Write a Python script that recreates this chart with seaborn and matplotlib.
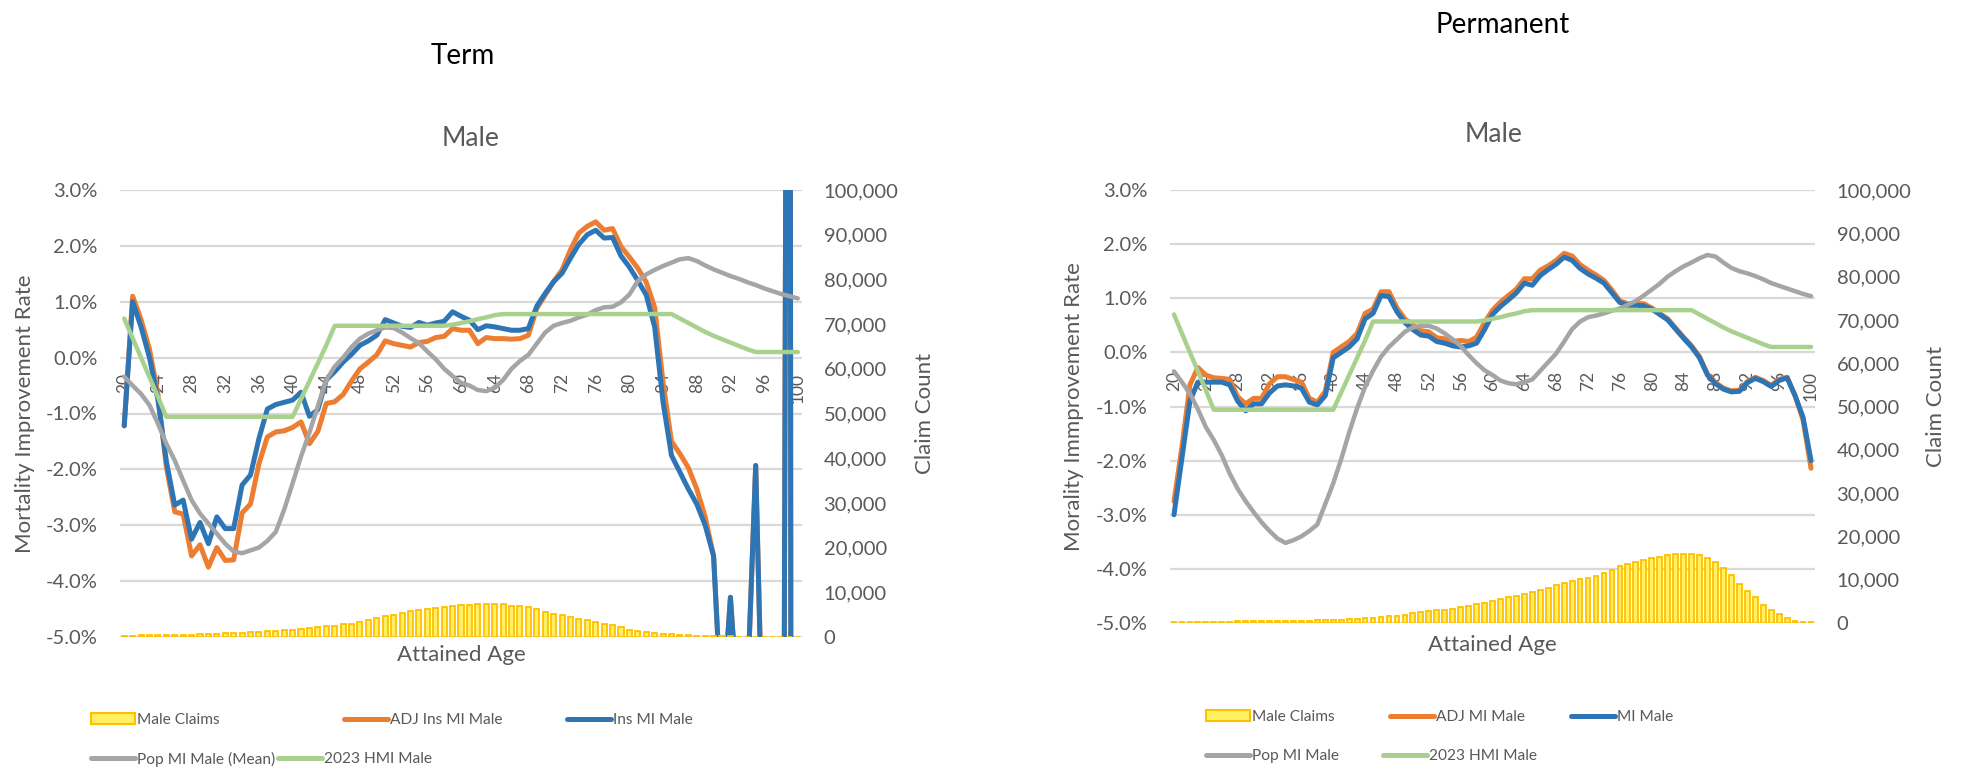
import matplotlib
matplotlib.use("Agg")
import matplotlib.pyplot as plt
import seaborn as sns
from matplotlib.ticker import FuncFormatter, FixedLocator
from matplotlib.lines import Line2D
from matplotlib.patches import Patch

# ---------------------------------------------------------------- data
ages = list(range(20, 101))
age_ticks = list(range(20, 101, 4))

# Term block
term_claims = [
    300, 320, 340, 360, 380, 400, 430, 470, 520, 580,
    650, 720, 800, 880, 960, 1050, 1150, 1250, 1350, 1480,
    1650, 1850, 2000, 2150, 2350, 2550, 2800, 3000, 3300, 3700,
    4200, 4600, 5000, 5400, 5800, 6050, 6250, 6450, 6700, 6900,
    7050, 7200, 7400, 7450, 7480, 7450, 7000, 6850, 6700, 6300,
    5700, 5200, 4850, 4500, 4100, 3750, 3350, 2900, 2600, 2200,
    1600, 1300, 1100, 900, 750, 600, 480, 390, 320, 260,
    210, 170, 140, 110, 90, 70, 55, 45, 35, 25, 20,
]
term_adj_ins_mi = [
    -1.22, 1.10, 0.68, 0.15, -0.65, -1.95, -2.76, -2.80, -3.55, -3.35,
    -3.75, -3.40, -3.63, -3.62, -2.78, -2.62, -1.90, -1.42, -1.33, -1.31,
    -1.25, -1.15, -1.54, -1.32, -0.82, -0.79, -0.66, -0.42, -0.20, -0.08,
    0.05, 0.30, 0.25, 0.22, 0.19, 0.27, 0.29, 0.36, 0.38, 0.52,
    0.49, 0.49, 0.25, 0.36, 0.34, 0.34, 0.33, 0.34, 0.40, 0.88,
    1.12, 1.36, 1.57, 1.93, 2.23, 2.35, 2.43, 2.28, 2.31, 1.99,
    1.80, 1.60, 1.35, 0.90, -0.45, -1.50, -1.72, -1.97, -2.35, -2.85,
    -3.55, -6.50, -4.29, -6.50, -6.00, -1.93, -8.00, -8.00, -25.0, 25.0, -150.0,
]
term_ins_mi = [
    -1.22, 1.00, 0.55, 0.00, -0.75, -1.85, -2.64, -2.55, -3.25, -2.95,
    -3.33, -2.85, -3.06, -3.06, -2.28, -2.10, -1.45, -0.92, -0.84, -0.80,
    -0.76, -0.62, -1.05, -0.93, -0.40, -0.25, -0.08, 0.06, 0.22, 0.30,
    0.40, 0.68, 0.62, 0.56, 0.54, 0.63, 0.58, 0.62, 0.65, 0.82,
    0.74, 0.67, 0.50, 0.57, 0.55, 0.52, 0.49, 0.49, 0.52, 0.92,
    1.15, 1.36, 1.51, 1.78, 2.03, 2.20, 2.28, 2.14, 2.15, 1.82,
    1.62, 1.38, 1.12, 0.55, -0.80, -1.75, -2.05, -2.35, -2.62, -3.00,
    -3.55, -6.50, -4.29, -6.50, -6.00, -1.93, -8.00, -8.00, -25.0, 25.0, -150.0,
]
term_pop_mi_mean = [
    -0.34, -0.50, -0.65, -0.85, -1.18, -1.54, -1.84, -2.20, -2.55, -2.79,
    -2.97, -3.15, -3.33, -3.47, -3.50, -3.45, -3.40, -3.28, -3.12, -2.72,
    -2.25, -1.77, -1.34, -0.87, -0.40, -0.16, 0.00, 0.19, 0.34, 0.43,
    0.49, 0.54, 0.53, 0.45, 0.35, 0.26, 0.11, -0.03, -0.20, -0.33,
    -0.45, -0.50, -0.58, -0.60, -0.54, -0.40, -0.20, -0.06, 0.05, 0.25,
    0.45, 0.57, 0.62, 0.66, 0.72, 0.77, 0.85, 0.90, 0.91, 0.99,
    1.13, 1.37, 1.49, 1.57, 1.64, 1.70, 1.76, 1.78, 1.73, 1.65,
    1.58, 1.52, 1.46, 1.41, 1.35, 1.30, 1.24, 1.19, 1.14, 1.10, 1.06,
]

# 2023 HMI table (same scale for both blocks)
hmi_2023 = (
    [0.70, 0.35, 0.00, -0.35, -0.70]
    + [-1.06] * 16
    + [-0.74, -0.42, -0.10, 0.22]
    + [0.57] * 14
    + [0.59, 0.62, 0.65, 0.69, 0.72, 0.76]
    + [0.78] * 21
    + [0.70, 0.62, 0.54, 0.46, 0.39, 0.33, 0.27, 0.21, 0.15]
    + [0.10] * 6
)

# Permanent block
perm_claims = [
    200, 200, 220, 230, 240, 250, 260, 280, 380, 390,
    400, 400, 410, 420, 430, 450, 470, 520, 580, 650,
    720, 800, 900, 1000, 1100, 1230, 1380, 1540, 1720, 1950,
    2200, 2500, 2700, 2900, 3100, 3300, 3600, 3900, 4300, 4700,
    5100, 5500, 5900, 6300, 6700, 7200, 7600, 8100, 8700, 9300,
    9800, 10100, 10300, 10900, 11600, 12300, 13100, 13600, 14100, 14500,
    14900, 15300, 15600, 15900, 16000, 16000, 15700, 14900, 14100, 12600,
    11000, 9100, 7500, 6000, 4200, 2900, 2100, 1100, 500, 250, 200,
]
perm_adj_mi = [
    -2.75, -1.75, -0.60, -0.28, -0.42, -0.47, -0.48, -0.50, -0.82, -0.95,
    -0.85, -0.85, -0.58, -0.45, -0.45, -0.50, -0.55, -0.85, -0.92, -0.72,
    0.00, 0.10, 0.20, 0.35, 0.72, 0.80, 1.12, 1.12, 0.82, 0.62,
    0.50, 0.40, 0.38, 0.27, 0.25, 0.20, 0.22, 0.20, 0.28, 0.55,
    0.78, 0.93, 1.05, 1.17, 1.36, 1.36, 1.52, 1.60, 1.70, 1.83,
    1.78, 1.62, 1.52, 1.43, 1.33, 1.15, 0.95, 0.90, 0.90, 0.90,
    0.82, 0.72, 0.62, 0.45, 0.28, 0.12, -0.08, -0.40, -0.56, -0.66,
    -0.71, -0.70, -0.54, -0.46, -0.52, -0.61, -0.50, -0.46, -0.80, -1.25, -2.14,
]
perm_mi = [
    -3.00, -1.95, -0.90, -0.55, -0.55, -0.55, -0.55, -0.60, -0.90, -1.08,
    -0.95, -0.95, -0.75, -0.62, -0.60, -0.62, -0.66, -0.92, -0.97, -0.80,
    -0.10, 0.00, 0.10, 0.25, 0.62, 0.72, 1.05, 1.03, 0.75, 0.55,
    0.42, 0.32, 0.30, 0.20, 0.17, 0.12, 0.10, 0.12, 0.17, 0.42,
    0.70, 0.85, 0.97, 1.10, 1.28, 1.24, 1.42, 1.53, 1.63, 1.76,
    1.70, 1.55, 1.45, 1.37, 1.28, 1.10, 0.92, 0.87, 0.87, 0.86,
    0.80, 0.70, 0.60, 0.43, 0.26, 0.10, -0.10, -0.42, -0.58, -0.68,
    -0.73, -0.72, -0.56, -0.48, -0.54, -0.63, -0.52, -0.47, -0.80, -1.20, -2.00,
]
perm_pop_mi = [
    -0.35, -0.55, -0.76, -1.05, -1.38, -1.62, -1.90, -2.24, -2.52, -2.75,
    -2.95, -3.14, -3.30, -3.44, -3.52, -3.47, -3.40, -3.30, -3.18, -2.80,
    -2.42, -1.97, -1.48, -1.03, -0.64, -0.34, -0.08, 0.10, 0.24, 0.38,
    0.46, 0.49, 0.49, 0.44, 0.35, 0.24, 0.12, -0.05, -0.20, -0.33,
    -0.42, -0.52, -0.57, -0.59, -0.55, -0.50, -0.34, -0.18, -0.02, 0.20,
    0.43, 0.57, 0.65, 0.68, 0.72, 0.77, 0.81, 0.88, 0.95, 1.05,
    1.16, 1.27, 1.40, 1.50, 1.59, 1.66, 1.74, 1.80, 1.77, 1.66,
    1.56, 1.50, 1.46, 1.41, 1.35, 1.28, 1.23, 1.18, 1.13, 1.08, 1.04,
]

# ---------------------------------------------------------------- style
ORANGE = "#ED7D31"
BLUE = "#2E75B6"
GREY = "#A5A5A5"
GREEN = "#A9D18E"
BAR_FACE = "#FFF064"
BAR_EDGE = "#FFC000"
TEXT = "#595959"
GRID = "#D9D9D9"

sns.set_theme(style="white")
plt.rcParams["font.family"] = ["Lato", "DejaVu Sans"]

W, H = 1963, 773
fig = plt.figure(figsize=(W / 100, H / 100), dpi=100)
fig.patch.set_facecolor("white")


def px_axes(left, top, right, bottom):
    return fig.add_axes([left / W, 1 - bottom / H, (right - left) / W, (bottom - top) / H])


def draw_panel(box, claims, series, ylabel, ylab_x, clab_x, xlab_y, xpad):
    ax = px_axes(*box)
    ax2 = ax.twinx()

    for vals, color, lw in series:
        sns.lineplot(x=ages, y=vals, ax=ax, color=color, linewidth=lw,
                     solid_capstyle="round", solid_joinstyle="round")

    sns.barplot(x=ages, y=claims, ax=ax2, native_scale=True, color=BAR_FACE,
                edgecolor=BAR_EDGE, linewidth=1.3, width=0.6, saturation=1,
                errorbar=None)

    ax.set_xlim(19.5, 100.5)
    ax.set_ylim(-5, 3)
    ax2.set_ylim(0, 100000)

    ax.xaxis.set_major_locator(FixedLocator(age_ticks))
    ax.xaxis.set_major_formatter(FuncFormatter(lambda v, _: f"{int(round(v))}"))
    ax.yaxis.set_major_locator(FixedLocator(list(range(-5, 4))))
    ax.yaxis.set_major_formatter(FuncFormatter(lambda v, _: f"{v:.1f}%"))
    ax2.yaxis.set_major_locator(FixedLocator(list(range(0, 100001, 10000))))
    ax2.yaxis.set_major_formatter(FuncFormatter(lambda v, _: f"{int(v):,}"))

    for a in (ax, ax2):
        for s in a.spines.values():
            s.set_visible(False)
    ax.spines["bottom"].set_position(("data", 0))

    ax.yaxis.grid(True, color=GRID, linewidth=1.6)
    ax.xaxis.grid(False)
    ax.set_axisbelow(True)

    ax.tick_params(axis="x", length=0, pad=xpad, labelsize=12.5, labelcolor=TEXT,
                   labelrotation=90)
    ax.tick_params(axis="y", length=0, pad=16, labelsize=14.5, labelcolor=TEXT)
    ax2.tick_params(axis="y", length=0, pad=15.5, labelsize=14.5, labelcolor=TEXT)

    ax.set_xlabel("Attained Age", fontsize=16, color=TEXT)
    ax.xaxis.set_label_coords(0.5, xlab_y)
    ax.set_ylabel(ylabel, fontsize=16, color=TEXT)
    ax.yaxis.label.set_va("center")
    ax.yaxis.set_label_coords(ylab_x, 0.5)
    ax2.set_ylabel("Claim Count", fontsize=16, color=TEXT)
    ax2.yaxis.label.set_va("center")
    ax2.yaxis.set_label_coords(clab_x, 0.5)
    return ax, ax2


draw_panel((120, 190, 802, 637), term_claims,
           [(term_adj_ins_mi, ORANGE, 3.6), (term_ins_mi, BLUE, 3.6),
            (term_pop_mi_mean, GREY, 3.2), (hmi_2023, GREEN, 3.2)],
           "Mortality Improvement Rate", -0.139, 1.180, -0.018, 11)

draw_panel((1170, 190, 1815, 623), perm_claims,
           [(perm_adj_mi, ORANGE, 3.6), (perm_mi, BLUE, 3.6),
            (perm_pop_mi, GREY, 3.2), (hmi_2023, GREEN, 3.2)],
           "Morality Immprovement Rate", -0.149, 1.188, -0.027, 13.5)

# titles
fig.text(463 / W, 1 - 56 / H, "Term", ha="center", va="center", fontsize=20, color="black")
fig.text(1503 / W, 1 - 25 / H, "Permanent", ha="center", va="center", fontsize=20, color="black")
fig.text(471 / W, 1 - 139 / H, "Male", ha="center", va="center", fontsize=19, color=TEXT)
fig.text(1494 / W, 1 - 134 / H, "Male", ha="center", va="center", fontsize=19, color=TEXT)

# legends: one entry per anchor so the rows flow like the original layout
LEGEND_SIZE = 11.2


def legend_item(handle, label, x, y):
    fig.legend([handle], [label], loc="center left",
               bbox_to_anchor=(x / W, 1 - y / H), frameon=False, fontsize=LEGEND_SIZE,
               handlelength=2.85, handletextpad=0.1, borderpad=0,
               borderaxespad=0, labelcolor=TEXT)


def claims_patch():
    return Patch(facecolor=BAR_FACE, edgecolor=BAR_EDGE, linewidth=1.5)


def line_handle(color):
    return Line2D([0], [0], color=color, linewidth=3.6, solid_capstyle="round")


legend_item(claims_patch(), "Male Claims", 91, 720)
legend_item(line_handle(ORANGE), "ADJ Ins MI Male", 344, 720)
legend_item(line_handle(BLUE), "Ins MI Male", 567, 720)
legend_item(line_handle(GREY), "Pop MI Male (Mean)", 91, 759)
legend_item(line_handle(GREEN), "2023 HMI Male", 278, 759)

legend_item(claims_patch(), "Male Claims", 1206, 717)
legend_item(line_handle(ORANGE), "ADJ MI Male", 1390, 717)
legend_item(line_handle(BLUE), "MI Male", 1571, 717)
legend_item(line_handle(GREY), "Pop MI Male", 1206, 756)
legend_item(line_handle(GREEN), "2023 HMI Male", 1383, 756)

fig.savefig("out.png", dpi=100, facecolor="white")
